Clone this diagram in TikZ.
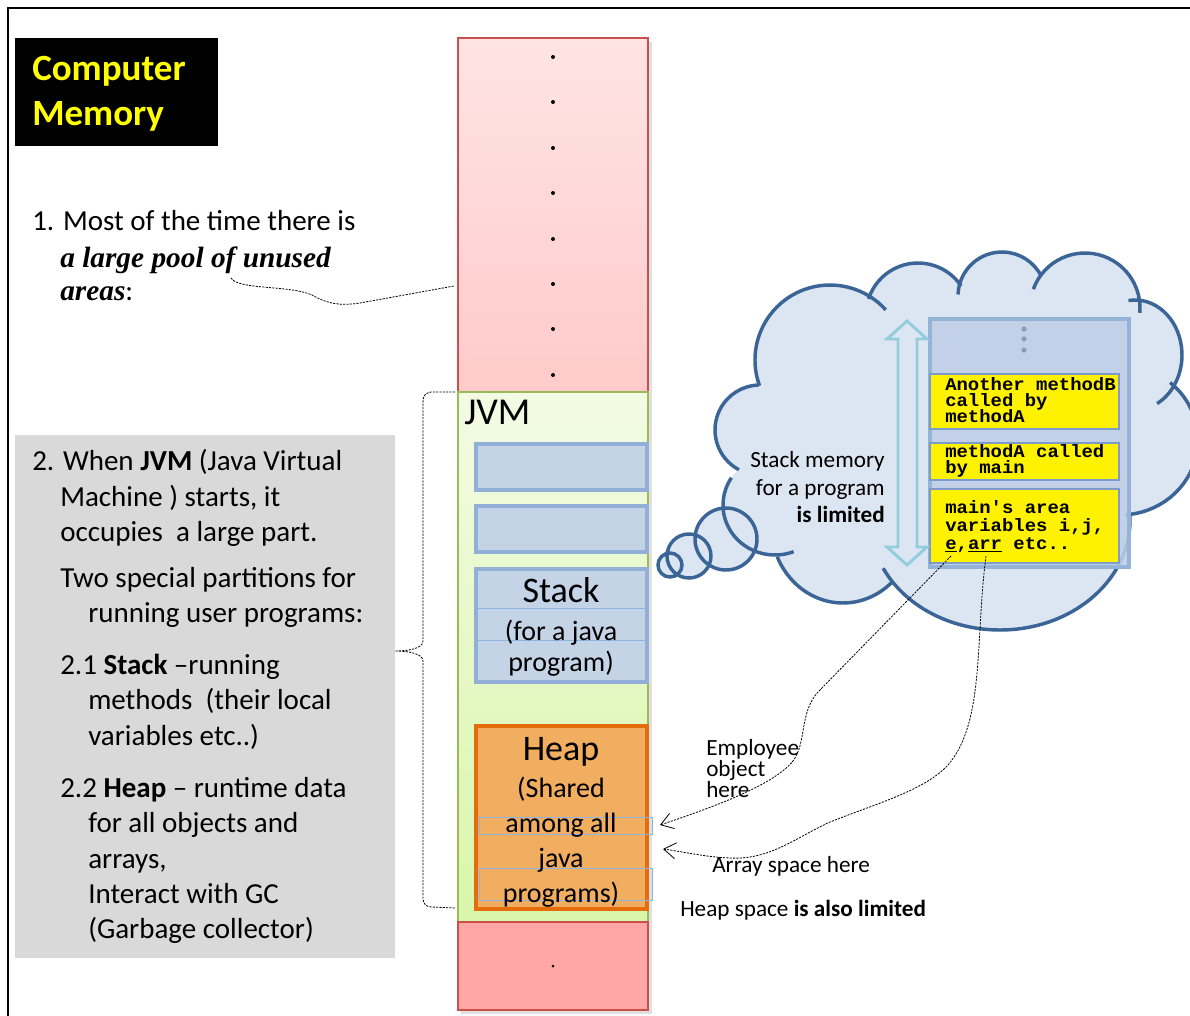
\documentclass[tikz,border=0pt]{standalone}
\usepackage{fontspec}
\setmainfont{Carlito}
\newfontfamily\serifbi{Liberation Serif}
\newfontfamily\monob[FakeStretch=1.06]{Liberation Mono}
\usetikzlibrary{arrows.meta}

\definecolor{freetop}{HTML}{FFE4E4}
\definecolor{freebot}{HTML}{FFCACA}
\definecolor{freeline}{HTML}{C9504D}
\definecolor{jvmtop}{HTML}{F3FBE4}
\definecolor{jvmbot}{HTML}{D9F6AA}
\definecolor{jvmline}{HTML}{9BBB59}
\definecolor{partfill}{HTML}{C4D4E6}
\definecolor{partline}{HTML}{92AFD8}
\definecolor{thinblue}{HTML}{8EB4E3}
\definecolor{heapfill}{HTML}{F1AD60}
\definecolor{heapline}{HTML}{E46C0A}
\definecolor{lowfree}{HTML}{FFA6A6}
\definecolor{notegray}{HTML}{D9D9D9}
\definecolor{titleyellow}{HTML}{FFFF00}
\definecolor{cloudfill}{HTML}{DCE6F2}
\definecolor{cloudline}{HTML}{3C6597}
\definecolor{framefill}{HTML}{BFCDE7}
\definecolor{frameline}{HTML}{95B3D7}
\definecolor{framedot}{HTML}{8E9CB8}
\definecolor{arrowline}{HTML}{93CDDD}
\definecolor{codeline}{HTML}{7C9ACB}

\begin{document}
\begin{tikzpicture}[x=0.75pt,y=-0.75pt,
  body/.style={anchor=base west,inner sep=0pt,font=\fontsize{21.75pt}{26pt}\selectfont},
  note/.style={anchor=base west,inner sep=0pt,font=\fontsize{17.4pt}{20pt}\selectfont},
  code/.style={anchor=base west,inner sep=0pt,font=\monob\bfseries\fontsize{13.4pt}{14pt}\selectfont},
  big/.style={anchor=base,inner sep=0pt,font=\fontsize{27pt}{32pt}\selectfont},
  mid/.style={anchor=base,inner sep=0pt,font=\fontsize{21pt}{25pt}\selectfont},
  guide/.style={draw=black,line width=0.6pt,dash pattern=on 1.6pt off 0.9pt},
  pointer/.style={guide,-{Straight Barb[length=9pt,width=12pt,line width=0.6pt]}},
  puff/.style={draw=cloudline,line width=2.6pt},
  partbox/.style={fill=partfill,draw=partline,line width=2.6pt},
  codebox/.style={fill=yellow,draw=codeline,line width=0.9pt},
]
\useasboundingbox (0,0) rectangle (1190,1015);
\fill[white] (0,0) rectangle (1190,1015);

% page frame
\draw[line width=1.8pt] (8,1022) -- (8,8) -- (1196,8);

% title
\fill[black] (15,38) rectangle (218,146);
\node[anchor=base west,inner sep=0pt,text=titleyellow,font=\bfseries\fontsize{27.75pt}{33pt}\selectfont] (title1) at (32,80) {Computer};
\node[anchor=base west,inner sep=0pt,text=titleyellow,font=\bfseries\fontsize{27.75pt}{33pt}\selectfont] (title2) at (32,125) {Memory};

% point 1
\node[body] (p1a) at (32,230) {1. Most of the time there is};
\node[body,font=\serifbi\bfseries\itshape\fontsize{22pt}{26pt}\selectfont] (p1b) at (60,267) {a large pool of unused};
\node[body] (p1c) at (60,300) {{\serifbi\bfseries\itshape\fontsize{22pt}{26pt}\selectfont areas}:};
\coordinate (ofmark) at (231,278);

% point 2 panel
\fill[notegray] (15,435) rectangle (395,958);
\node[body] (p2a) at (32,470) {2. When \textbf{JVM} (Java Virtual};
\node[body] (p2b) at (60,506) {Machine ) starts, it};
\node[body] (p2c) at (60,541) {occupies\ \ a large part.};
\node[body] (p2d) at (60,587) {Two special partitions for};
\node[body] (p2e) at (88,622) {running user programs:};
\node[body] (p2f) at (60,674) {2.1 \textbf{Stack} –running};
\node[body] (p2g) at (88,709) {methods\ \ (their local};
\node[body] (p2h) at (88,745) {variables etc..)};
\node[body] (p2i) at (60,797) {2.2 \textbf{Heap} – runtime data};
\node[body] (p2j) at (88,832) {for all objects and};
\node[body] (p2k) at (88,868) {arrays,};
\node[body] (p2l) at (88,903) {Interact with GC};
\node[body] (p2m) at (88,938) {(Garbage collector)};

% memory column
\fill[black,opacity=0.12] (461,42) rectangle (652,1014);
\shade[top color=freetop,bottom color=freebot] (458,38) rectangle (648,392);
\draw[freeline,line width=0.9pt] (458,38) rectangle (648,392);
\foreach \y in {57,102,148,193,239,284,329,375}
  \fill (553,\y) circle[radius=2];
\coordinate (freeedge) at (454,286);

\shade[top color=jvmtop,bottom color=jvmbot] (458,392) rectangle (648,922);
\draw[jvmline,line width=0.9pt] (458,392) rectangle (648,922);
\node[anchor=base west,inner sep=0pt,font=\fontsize{28.5pt}{32pt}\selectfont] (jvmlabel) at (464,424) {JVM};

\fill[lowfree] (458,922) rectangle (648,1010);
\draw[freeline,line width=0.9pt] (458,922) rectangle (648,1010);
\fill (553,966) circle[radius=1.5];

% JVM partitions
\draw[partbox] (476,444) rectangle (647,490);
\draw[partbox] (476,506) rectangle (647,552);
\draw[partbox] (476,569) rectangle (647,682);
\draw[thinblue,line width=0.6pt] (478,608) -- (646,608) (478,640) -- (646,640);
\node[big] (stackname) at (561,602) {Stack};
\node[mid] (stackn1) at (561,640) {(for a java};
\node[mid] (stackn2) at (561,671) {program)};

\draw[fill=heapfill,draw=heapline,line width=3pt] (476,726) rectangle (647,909);
\draw[thinblue,line width=0.6pt] (479,817) rectangle (652,834) (479,868) rectangle (652,900);
\node[big] (heapname) at (561,760) {Heap};
\node[mid] (heapn1) at (561,797) {(Shared};
\node[mid] (heapn2) at (561,832) {among all};
\node[mid] (heapn3) at (561,867) {java};
\node[mid] (heapn4) at (561,902) {programs)};
\coordinate (heapE) at (660,825);
\coordinate (heapA) at (663,849);

% brace from the panel to the JVM block
\coordinate (braceTop) at (455,392);
\coordinate (braceTip) at (395,651);
\coordinate (braceBot) at (455,908);
\draw[guide] (braceTop) -- (431,392) .. controls (425,393) and (423,396) .. (423,402)
  -- (423,641) .. controls (423,648) and (410,651) .. (braceTip)
  .. controls (410,651) and (423,654) .. (423,661)
  -- (423,898) .. controls (423,904) and (426,907) .. (432,907) -- (braceBot);

% pointer from the text to the free area
\draw[guide] (ofmark) .. controls (238,290) and (290,285) .. (312,295)
  .. controls (328,304) and (340,306) .. (360,303) -- (freeedge);

% thought cloud: fills first
\fill[cloudfill] (757,383) -- (873,298) -- (962,287) -- (1040,280) -- (1140,305)
  -- (1178,400) -- (1130,515) -- (890,575) -- (790,553) -- (737,470) -- cycle;
\foreach \cx/\cy/\rx/\ry in {760/430/45/45, 830/360/75/75, 918/315/52/52,
    1002/296/44/44, 1085/308/55/55, 1135/355/47/55, 1120/440/78/75,
    1000/520/130/110, 843/525/72/78, 775/505/52/50}
  \fill[cloudfill] (\cx,\cy) ellipse[x radius=\rx,y radius=\ry];
\fill[cloudfill] (726,539) circle[radius=31] (689,556) circle[radius=22] (670,565) circle[radius=12];
% cloud outline, one arc per puff
\foreach \cx/\cy/\rx/\ry/\a/\b in {760/430/45/45/118/268, 830/360/75/75/160/318,
    918/315/52/52/198/326, 1002/296/44/44/182/333, 1085/308/55/55/200/365,
    1135/355/47/55/262/422, 1120/440/78/75/310/446, 1000/520/130/110/-2/154,
    843/525/72/78/46/156, 775/505/52/50/69/213}
  \draw[puff] ({\cx+\rx*cos(\a)},{\cy+\ry*sin(\a)}) arc[start angle=\a,end angle=\b,x radius=\rx,y radius=\ry];
\draw[puff] (726,539) circle[radius=31] (689,556) circle[radius=22] (670,565) circle[radius=12];

% stack frames
\draw[fill=framefill,fill opacity=0.88,draw=frameline,line width=3pt] (930,319) rectangle (1129,567);
\foreach \y in {329,339,350}
  \fill[framedot] (1024,\y) circle[radius=2.6];
\draw[codebox] (930,374) rectangle (1119,429);
\draw[codebox] (930,443) rectangle (1119,480);
\draw[codebox] (930,489) rectangle (1119,563);
\node[code] (fb1) at (945,390) {Another methodB};
\node[code] (fb2) at (945,406) {called by};
\node[code] (fb3) at (945,422) {methodA};
\node[code] (fa1) at (945,457) {methodA called};
\node[code] (fa2) at (945,473) {by main};
\node[code] (fm1) at (945,513) {main{\char"27}s area};
\node[code] (fm2) at (945,531) {variables i,j,};
\node[code] (fm3) at (945,549) {\underline{e},\underline{arr} etc..};
\coordinate (emark) at (951,556);
\coordinate (arrmark) at (986,556);

% growth arrow
\draw[draw=arrowline,fill=cloudfill,line width=2.2pt,line join=miter]
  (907,321) -- (927,339) -- (917,339) -- (917,547) -- (927,547) -- (907,565)
  -- (887,547) -- (898,547) -- (898,339) -- (887,339) -- cycle;

\node[note,anchor=base east] (lim1) at (885,467) {Stack memory};
\node[note,anchor=base east] (lim2) at (885,495) {for a program};
\node[note,anchor=base east] (lim3) at (885,522) {\textbf{is limited}};

% references into the heap
\draw[pointer] (emark) -- (818,692) .. controls (800,712) and (806,740) .. (795,758)
  .. controls (780,782) and (720,805) .. (heapE);
\draw[pointer] (arrmark) .. controls (975,640) and (985,722) .. (948,765)
  .. controls (925,790) and (878,803) .. (830,822)
  .. controls (795,838) and (770,860) .. (730,858)
  .. controls (705,857) and (685,852) .. (heapA);

\node[anchor=north west,inner sep=0pt,align=left,
      font=\fontsize{17.4pt}{14.4pt}\selectfont] (emp) at (706,739) {Employee\\object\\here};
\node[note] (arrlabel) at (712,872) {Array space here};
\node[note] (heaplim) at (680,916) {Heap space \textbf{is also limited}};
\end{tikzpicture}
\end{document}
